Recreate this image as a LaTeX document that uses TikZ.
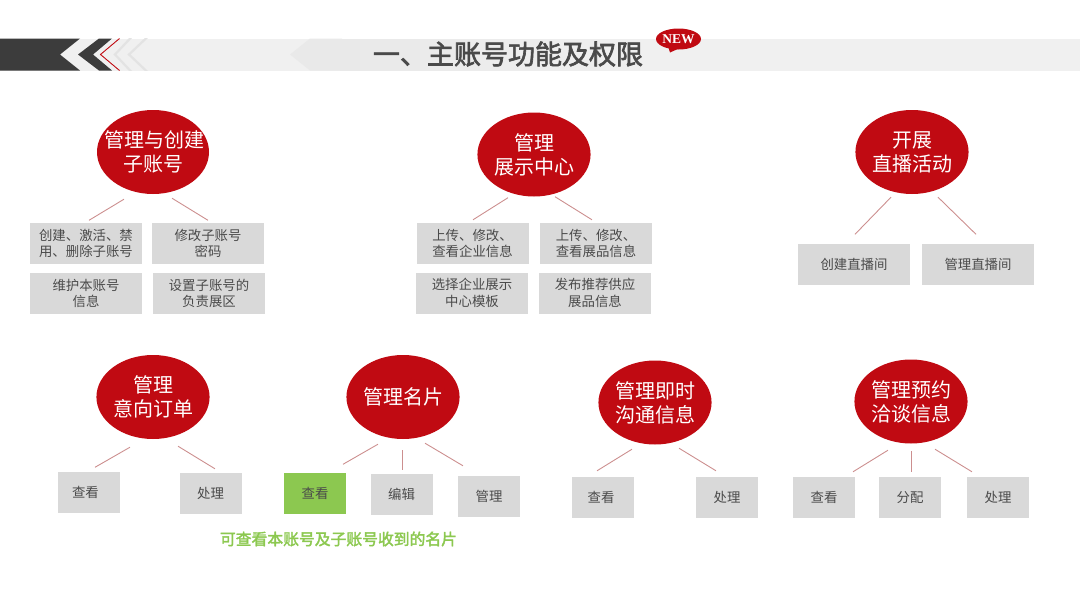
\documentclass[tikz,border=0pt]{standalone}
\usepackage{fontspec}
\usepackage{tikz}
\usetikzlibrary{shapes.geometric}
\setmainfont{Noto Sans CJK SC}
\newfontfamily\latinserif{Liberation Serif}
\newfontfamily\titlefont[FakeBold=2.4]{Noto Sans CJK SC}
\newfontfamily\notefont[FakeBold=2.4]{Noto Sans CJK SC}
\definecolor{brandred}{HTML}{C00A12}
\definecolor{boxgray}{HTML}{D9D9D9}
\definecolor{textgray}{HTML}{4A4A4A}
\definecolor{linkred}{HTML}{CC8F8F}
\definecolor{okgreen}{HTML}{8CC850}
\definecolor{bandgray}{HTML}{F0F0F0}
\definecolor{chevgray}{HTML}{E9E9E9}
\definecolor{palegray}{HTML}{E3E3E3}
\definecolor{darkband}{HTML}{3C3C3C}
\tikzset{
  topic/.style={ellipse,fill=brandred,text=white,inner sep=0pt,minimum width=112pt,minimum height=84pt,align=center,font=\fontsize{20}{24}\selectfont},
  leaf/.style={rectangle,fill=boxgray,text=textgray,inner sep=0pt,minimum width=#1,minimum height=41pt,align=center,font=\fontsize{13.4}{16.5}\selectfont},
  leaf/.default=112pt,
  link/.style={draw=linkred,line width=0.9pt},
  palechev/.style={draw=palegray,line width=2.2pt,line join=miter},
}
\begin{document}
\begin{tikzpicture}[x=1pt,y=-1pt]
\useasboundingbox (0,0) rectangle (1080,608);
% banner
\fill[bandgray] (0,38.5) rectangle (1080,70.5);
\fill[chevgray] (290,54.5) -- (310,38.5) -- (342,38.5) -- (342,70.5) -- (310,70.5) -- cycle;
\foreach \i in {0,...,15}{
  \pgfmathsetmacro{\xs}{340+\i*20}
  \pgfmathsetmacro{\mixv}{100-\i*6.6}
  \fill[chevgray!\mixv!bandgray] (\xs,38.5) rectangle (\xs+21,70.5);
}
\fill[darkband] (0,38.5) -- (80,38.5) -- (60,54.5) -- (80,70.5) -- (0,70.5) -- cycle;
\fill[darkband] (99,38.5) -- (112,38.5) -- (93,54.5) -- (112,70.5) -- (99,70.5) -- (78,54.5) -- cycle;
\begin{scope}
\clip (0,38.5) rectangle (1080,70.5);
\draw[palechev] (132,36.5) -- (115,54.5) -- (132,72.5);
\draw[palechev] (148,36.5) -- (129,54.5) -- (148,72.5);
\end{scope}
\draw[brandred,line width=0.9pt] (119.5,38.5) -- (100.5,54.5) -- (119.5,70.5);
\node[text=textgray,inner sep=0pt,font=\titlefont\fontsize{27}{30}\selectfont] (title) at (508,54) {一、主账号功能及权限};
\fill[brandred] (668,46) -- (670,52.5) -- (680,48) -- cycle;
\node[ellipse,fill=brandred,text=white,inner sep=0pt,minimum width=45pt,minimum height=21pt,font=\latinserif\fontsize{13.5}{14}\selectfont\bfseries] (newtag) at (678.5,39) {\makebox[20pt]{NEW}};
% topics
\node[topic] (A) at (153,152) {\makebox[60pt]{\hspace*{2pt}管理与创建}\\子账号};
\node[topic] (B) at (534,154.5) {管理\\展示中心};
\node[topic] (C) at (912,152) {开展\\直播活动};
\node[topic] (D) at (153,397) {管理\\意向订单};
\node[topic] (E) at (403,397) {管理名片};
\node[topic] (F) at (655,402.5) {管理即时\\沟通信息};
\node[topic] (G) at (911,401.5) {管理预约\\洽谈信息};
% leaves
\node[leaf] (A1) at (86,243.5) {创建、激活、禁\\用、删除子账号};
\node[leaf] (A2) at (208,243.5) {修改子账号\\密码};
\node[leaf] (A3) at (86,293.5) {维护本账号\\信息};
\node[leaf] (A4) at (209,293.5) {设置子账号的\\负责展区};
\node[leaf] (B1) at (472.5,243.5) {上传、修改、\\查看企业信息};
\node[leaf] (B2) at (596,243.5) {上传、修改、\\查看展品信息};
\node[leaf] (B3) at (472,293) {选择企业展示\\中心模板};
\node[leaf] (B4) at (595,293) {发布推荐供应\\展品信息};
\node[leaf] (C1) at (854,264) {创建直播间};
\node[leaf] (C2) at (978,264) {管理直播间};
\node[leaf=62pt] (D1) at (88.5,492) {\hspace*{-6pt}查看};
\node[leaf=62pt] (D2) at (210.5,493) {处理};
\node[leaf=62pt,fill=okgreen] (E1) at (315,493) {查看};
\node[leaf=62pt] (E2) at (401.5,494) {编辑};
\node[leaf=62pt] (E3) at (489,496.5) {管理};
\node[leaf=62pt] (F1) at (603,497.5) {\hspace*{-4pt}查看};
\node[leaf=62pt] (F2) at (727,497.5) {处理};
\node[leaf=62pt] (G1) at (824,497.5) {查看};
\node[leaf=62pt] (G2) at (910,497.5) {分配};
\node[leaf=62pt] (G3) at (998,497.5) {处理};
\node[text=okgreen,inner sep=0pt,font=\notefont\fontsize{15.8}{18}\selectfont] (note) at (338.5,539) {可查看本账号及子账号收到的名片};
% connectors
\draw[link] ([shift={(-29,5)}]A.south) -- ([shift={(3,-2.5)}]A1.north);
\draw[link] ([shift={(19,4)}]A.south) -- ([shift={(0,-2.5)}]A2.north);
\draw[link] ([shift={(-26,1)}]B.south) -- ([shift={(0.5,-3)}]B1.north);
\draw[link] ([shift={(21,0)}]B.south) -- ([shift={(-4,-3)}]B2.north);
\draw[link] ([shift={(-21,3)}]C.south) -- ([shift={(1,-9)}]C1.north);
\draw[link] ([shift={(26,3)}]C.south) -- ([shift={(-2,-9)}]C2.north);
\draw[link] ([shift={(-23,8)}]D.south) -- ([shift={(6.5,-4)}]D1.north);
\draw[link] ([shift={(25,7)}]D.south) -- ([shift={(4.5,-3.5)}]D2.north);
\draw[link] ([shift={(-25,5)}]E.south) -- ([shift={(28,-8)}]E1.north);
\draw[link] ([shift={(-1,11)}]E.south) -- ([shift={(0.5,-3)}]E2.north);
\draw[link] ([shift={(22,4)}]E.south) -- ([shift={(-26,-10)}]E3.north);
\draw[link] ([shift={(-23,4.5)}]F.south) -- ([shift={(-6,-6)}]F1.north);
\draw[link] ([shift={(24,3.5)}]F.south) -- ([shift={(-11,-6)}]F2.north);
\draw[link] ([shift={(-23,6.5)}]G.south) -- ([shift={(29,-5)}]G1.north);
\draw[link] ([shift={(0,7.5)}]G.south) -- ([shift={(1,-5)}]G2.north);
\draw[link] ([shift={(24,5.5)}]G.south) -- ([shift={(-26,-5)}]G3.north);
\end{tikzpicture}
\end{document}
